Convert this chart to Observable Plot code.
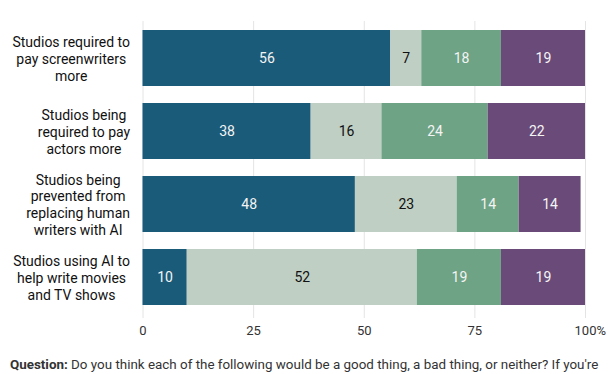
<!DOCTYPE html>
<html>
<head>
<meta charset="utf-8">
<script src="https://cdn.jsdelivr.net/npm/d3@7"></script>
<script src="https://cdn.jsdelivr.net/npm/@observablehq/plot@0.6"></script>
<style>
  body { margin: 0; background: #fff; font-family: Roboto, sans-serif; }
  #wrap { width: 612px; height: 374px; overflow: hidden; position: relative; }
  #cap { position: absolute; left: 10px; top: 357px; font-size: 13.4px; line-height: 16px; color: #333; white-space: nowrap; font-family: Roboto, sans-serif; }
  #cap b { font-weight: 700; }
</style>
</head>
<body>
<div id="wrap">
  <div id="chart"></div>
  <div id="cap"><b>Question:</b> Do you think each of the following would be a good thing, a bad thing, or neither? If you're</div>
</div>
<script>
// ---- Data ----
const categories = [
  "Studios required to pay screenwriters more",
  "Studios being required to pay actors more",
  "Studios being prevented from replacing human writers with AI",
  "Studios using AI to help write movies and TV shows"
];
const categoryLabels = [
  "Studios required to\npay screenwriters\nmore",
  "Studios being\nrequired to pay\nactors more",
  "Studios being\nprevented from\nreplacing human\nwriters with AI",
  "Studios using AI to\nhelp write movies\nand TV shows"
];
const responses = ["A good thing", "A bad thing", "Neither", "Not sure"];
const goodThing = [56, 38, 48, 10];
const badThing  = [7, 16, 23, 52];
const neither   = [18, 24, 14, 19];
const notSure   = [19, 22, 14, 19];
const xTicks = [0, 25, 50, 75, 100];
const colors = ["#1a5b7a", "#bfcfc3", "#6ea385", "#6a4a78"];

const series = [goodThing, badThing, neither, notSure];
const data = [];
categories.forEach((c, i) => {
  responses.forEach((r, j) => {
    data.push({category: c, response: r, value: series[j][i]});
  });
});
const labelOf = Object.fromEntries(categories.map((c, i) => [c, categoryLabels[i]]));
const darkText = "A bad thing";

const plot = Plot.plot({
  width: 612,
  height: 345,
  marginTop: 21,
  marginBottom: 27,
  marginLeft: 142.5,
  marginRight: 27,
  style: {fontFamily: "Roboto, sans-serif", background: "#fff"},
  x: {domain: [0, 100]},
  y: {domain: categories, range: [21.5, 313.5], paddingInner: 17/73, paddingOuter: 17/146},
  color: {domain: responses, range: colors},
  marks: [
    Plot.ruleX(xTicks, {stroke: "#e4e4e4", strokeWidth: 1}),
    Plot.barX(data, Plot.stackX({x: "value", y: "category", fill: "response", order: responses})),
    Plot.text(data, Plot.stackX({
      x: "value", y: "category", z: "response", order: responses,
      text: d => d.response !== darkText ? String(d.value) : "",
      fill: "#f4f4f4", fontSize: 14
    })),
    Plot.text(data, Plot.stackX({
      x: "value", y: "category", z: "response", order: responses,
      text: d => d.response === darkText ? String(d.value) : "",
      fill: "#111", fontSize: 14
    })),
    Plot.axisY({tickFormat: d => labelOf[d], tickSize: 0, tickPadding: 13, fontSize: 14, lineHeight: 1.2, fill: "#111", label: null}),
    Plot.axisX({ticks: xTicks, tickFormat: d => String(d), tickSize: 0, tickPadding: 7, fontSize: 13, fill: "#333", label: null}),
    Plot.text([100], {x: d => d, frameAnchor: "bottom", text: () => "%", dx: 11, dy: 7, lineAnchor: "top", textAnchor: "start", fontSize: 13, fill: "#333"})
  ]
});
document.getElementById("chart").appendChild(plot);

// center-align the lines of each multi-line y label block (block stays right-aligned)
plot.querySelectorAll('g[aria-label="y-axis tick label"] text').forEach(t => {
  const b = t.getBBox();
  const cx = b.x + b.width / 2;
  t.setAttribute("text-anchor", "middle");
  const spans = t.querySelectorAll("tspan");
  if (spans.length) spans.forEach(s => s.setAttribute("x", cx));
  else t.setAttribute("x", cx);
});
</script>
</body>
</html>
